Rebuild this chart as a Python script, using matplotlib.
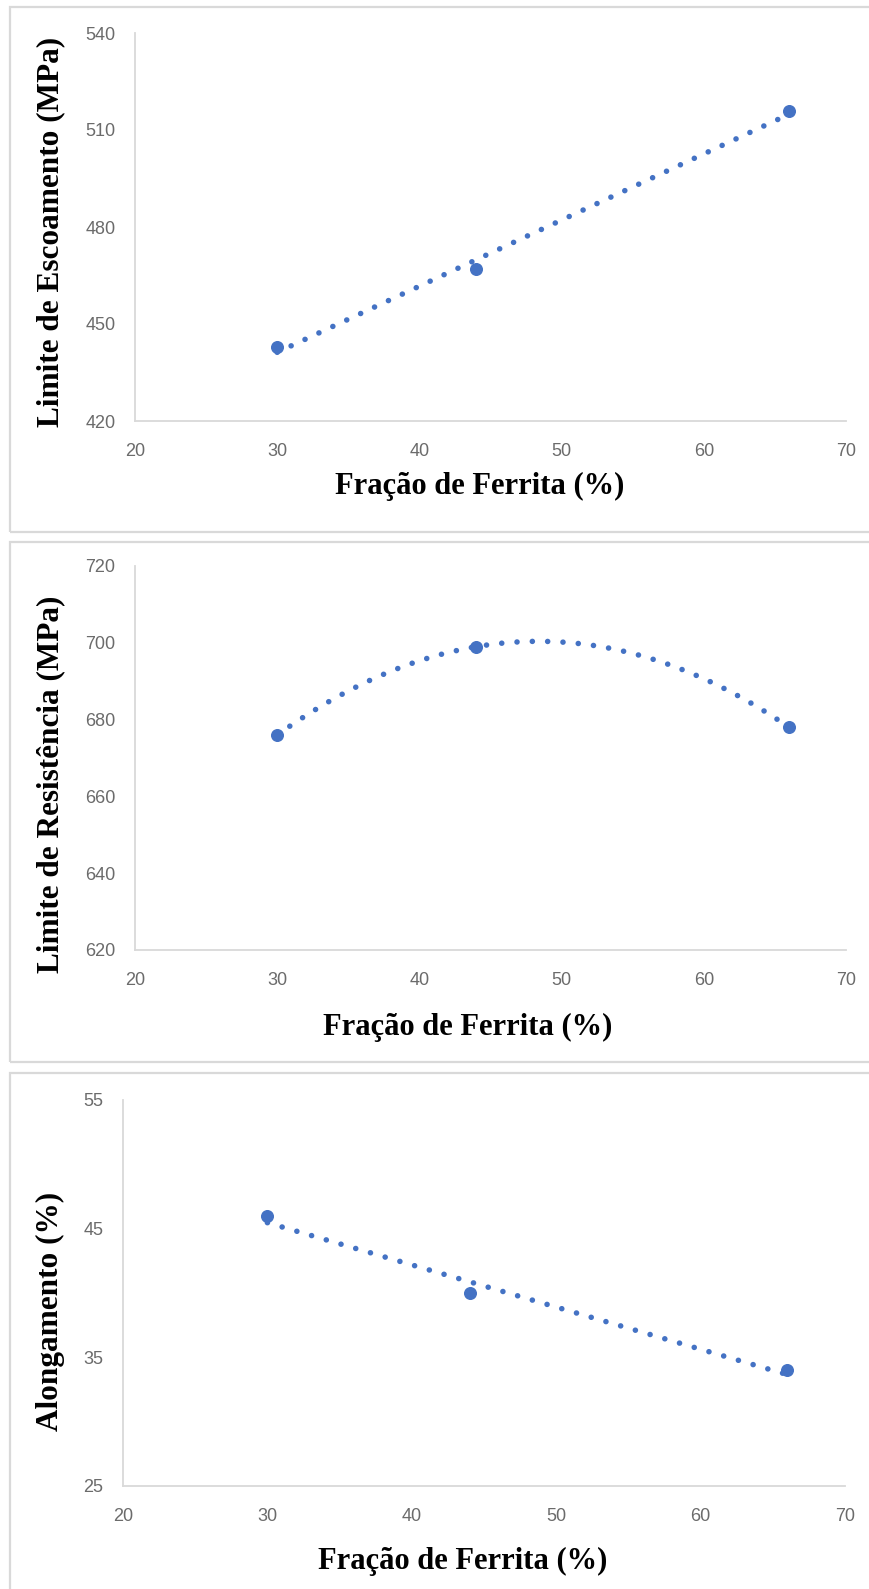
import numpy as np
import matplotlib
matplotlib.use("Agg")
import matplotlib.pyplot as plt
from matplotlib.patches import Rectangle

W, H = 869, 1589
BLUE = "#4472C4"
GRID = "#d9d9d9"

# data
ferrita = [30, 44, 66]
escoamento = [443, 467, 516]
resistencia = [676, 699, 678]
alongamento = [46, 40, 34]

xticks = [20, 30, 40, 50, 60, 70]
yticks_esc = [420, 450, 480, 510, 540]
yticks_res = [620, 640, 660, 680, 700, 720]
yticks_along = [25, 35, 45, 55]

xlabel = "Fração de Ferrita (%)"
ylabels = ["Limite de Escoamento (MPa)",
           "Limite de Resistência (MPa)",
           "Alongamento (%)"]


def px_axes(fig, x0, y0, x1, y1):
    return fig.add_axes([x0 / W, 1 - y1 / H, (x1 - x0) / W, (y1 - y0) / H])


def panel(fig, box, yvals, yticks, deg, ylab, ylab_pos, xlab_pos, frame):
    # frame around each chart, like the excel chart area
    fx0, fy0, fx1, fy1 = frame
    fig.patches.append(Rectangle((fx0 / W, 1 - fy1 / H), (fx1 - fx0) / W,
                                 (fy1 - fy0) / H, transform=fig.transFigure,
                                 fill=False, edgecolor=GRID, lw=1.6))
    ax = px_axes(fig, *box)
    ax.scatter(ferrita, yvals, s=70, color=BLUE, zorder=3)

    # trendline, same as excel
    coef = np.polyfit(ferrita, yvals, deg)
    xx = np.linspace(min(ferrita), max(ferrita), 200)
    ax.plot(xx, np.polyval(coef, xx), color=BLUE, lw=4.0,
            linestyle=(0, (0.01, 2.75)), dash_capstyle="round", zorder=2)

    ax.set_xlim(xticks[0], xticks[-1])
    ax.set_ylim(yticks[0], yticks[-1])
    ax.set_xticks(xticks)
    ax.set_yticks(yticks)
    ax.tick_params(length=0, labelsize=13, labelcolor="#6b6b6b")
    ax.tick_params(axis="x", pad=16)
    ax.tick_params(axis="y", pad=14)
    for s in ["top", "right"]:
        ax.spines[s].set_visible(False)
    for s in ["left", "bottom"]:
        ax.spines[s].set_color(GRID)
        ax.spines[s].set_linewidth(1.3)

    fig.text(ylab_pos[0] / W, 1 - ylab_pos[1] / H, ylab, rotation=90,
             ha="center", va="center", fontsize=22.5, fontweight="bold",
             family="Liberation Serif")
    fig.text(xlab_pos[0] / W, 1 - xlab_pos[1] / H, xlabel,
             ha="center", va="center", fontsize=22, fontweight="bold",
             family="Liberation Serif")
    return ax


def main():
    plt.rcParams["font.family"] = ["Liberation Sans", "DejaVu Sans"]
    fig = plt.figure(figsize=(W / 100, H / 100), dpi=100)

    panel(fig, (135, 33, 846, 421), escoamento, yticks_esc, 1,
          ylabels[0], (51, 232), (480, 486), (10, 7, 880, 532))
    panel(fig, (135, 566, 846, 950), resistencia, yticks_res, 2,
          ylabels[1], (51, 784), (468, 1027), (10, 542, 880, 1062))
    panel(fig, (123, 1100, 845, 1486), alongamento, yticks_along, 1,
          ylabels[2], (50, 1311), (463, 1561), (10, 1073, 880, 1600))

    fig.savefig("out.png", dpi=100, facecolor="white")


if __name__ == "__main__":
    main()
